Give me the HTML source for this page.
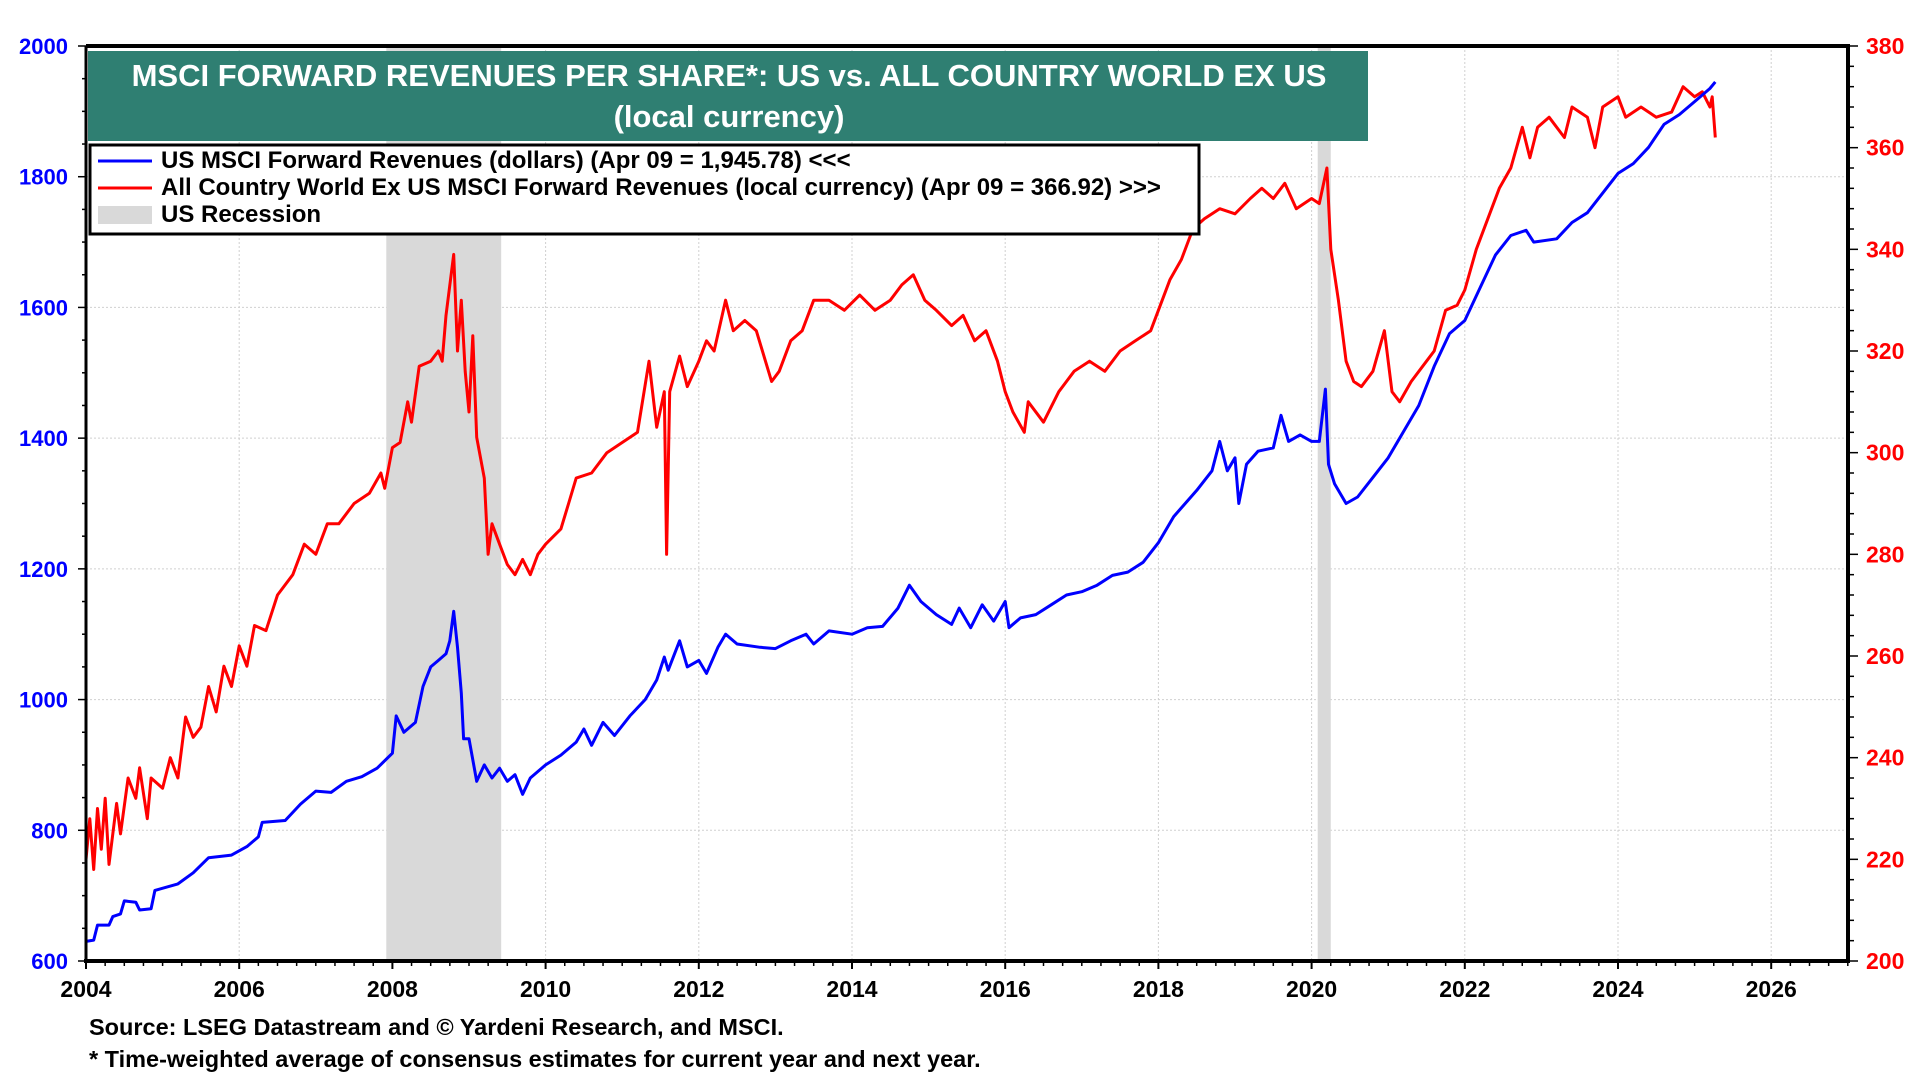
<!DOCTYPE html>
<html><head><meta charset="utf-8"><style>
html,body{margin:0;padding:0;background:#fff;width:1920px;height:1080px;overflow:hidden}
svg{display:block}
text{font-family:"Liberation Sans",Arial,sans-serif;font-weight:bold}
</style></head><body>
<svg id="chart" width="1920" height="1080" xmlns="http://www.w3.org/2000/svg">
<g id="grid"></g>
<g id="shade"></g>
<g id="series"></g>
<g id="axes"></g>
<rect x="88" y="51" width="1280" height="90" fill="#2f7f72"/>
<text x="729" y="86" fill="#fff" font-size="31" text-anchor="middle">MSCI FORWARD REVENUES PER SHARE*: US vs. ALL COUNTRY WORLD EX US</text>
<text x="729" y="127" fill="#fff" font-size="31" text-anchor="middle">(local currency)</text>
<g>
<rect x="90" y="145" width="1109" height="89" fill="#fff" stroke="#000" stroke-width="3"/>
<line x1="98" y1="161" x2="152" y2="161" stroke="#0000ff" stroke-width="3"/>
<text x="161" y="168" font-size="24">US MSCI Forward Revenues (dollars) (Apr 09 = 1,945.78) &lt;&lt;&lt;</text>
<line x1="98" y1="188" x2="152" y2="188" stroke="#ff0000" stroke-width="3"/>
<text x="161" y="195" font-size="24">All Country World Ex US MSCI Forward Revenues (local currency) (Apr 09 = 366.92) &gt;&gt;&gt;</text>
<rect x="98" y="206" width="54" height="18" fill="#d9d9d9"/>
<text x="161" y="222" font-size="24">US Recession</text>
</g>
<text x="89" y="1035" font-size="23.5">Source: LSEG Datastream and © Yardeni Research, and MSCI.</text>
<text x="89" y="1067" font-size="23.5">* Time-weighted average of consensus estimates for current year and next year.</text>
</svg>
<script>
const blueYears=[2004.0,2004.1,2004.15,2004.3,2004.35,2004.45,2004.5,2004.65,2004.7,2004.85,2004.9,2005.2,2005.4,2005.6,2005.9,2006.1,2006.25,2006.3,2006.6,2006.8,2007.0,2007.2,2007.4,2007.6,2007.8,2008.0,2008.05,2008.15,2008.3,2008.4,2008.5,2008.6,2008.7,2008.75,2008.8,2008.85,2008.9,2008.93,2009.0,2009.1,2009.2,2009.3,2009.4,2009.5,2009.6,2009.7,2009.8,2010.0,2010.2,2010.4,2010.5,2010.6,2010.75,2010.9,2011.1,2011.3,2011.45,2011.55,2011.6,2011.75,2011.85,2012.0,2012.1,2012.25,2012.35,2012.5,2012.8,2013.0,2013.2,2013.4,2013.5,2013.7,2014.0,2014.2,2014.4,2014.6,2014.75,2014.9,2015.1,2015.3,2015.4,2015.55,2015.7,2015.85,2016.0,2016.05,2016.2,2016.4,2016.6,2016.8,2017.0,2017.2,2017.4,2017.6,2017.8,2018.0,2018.2,2018.35,2018.5,2018.7,2018.8,2018.9,2019.0,2019.05,2019.15,2019.3,2019.5,2019.6,2019.7,2019.85,2020.0,2020.1,2020.18,2020.22,2020.3,2020.45,2020.6,2020.8,2021.0,2021.2,2021.4,2021.6,2021.8,2022.0,2022.2,2022.4,2022.6,2022.8,2022.9,2023.2,2023.4,2023.6,2023.8,2024.0,2024.2,2024.4,2024.6,2024.8,2025.0,2025.2,2025.27];
const blueVals=[630,632,655,655,668,672,692,690,678,680,708,718,735,758,762,775,790,812,815,840,860,858,875,882,895,918,975,950,965,1020,1050,1060,1070,1090,1135,1080,1010,940,940,875,900,880,895,875,885,855,880,900,915,935,955,930,965,945,975,1000,1030,1065,1045,1090,1050,1060,1040,1080,1100,1085,1080,1078,1090,1100,1085,1105,1100,1110,1112,1140,1175,1150,1130,1115,1140,1110,1145,1120,1150,1110,1125,1130,1145,1160,1165,1175,1190,1195,1210,1240,1280,1300,1320,1350,1395,1350,1370,1300,1360,1380,1385,1435,1395,1405,1395,1395,1475,1360,1330,1300,1310,1340,1370,1410,1450,1510,1560,1580,1630,1680,1710,1718,1700,1705,1730,1745,1775,1805,1820,1845,1880,1895,1915,1935,1945];
const redYears=[2004.0,2004.05,2004.1,2004.15,2004.2,2004.25,2004.3,2004.4,2004.45,2004.55,2004.65,2004.7,2004.8,2004.85,2005.0,2005.1,2005.2,2005.3,2005.4,2005.5,2005.6,2005.7,2005.8,2005.9,2006.0,2006.1,2006.2,2006.35,2006.5,2006.7,2006.85,2007.0,2007.15,2007.3,2007.5,2007.7,2007.85,2007.9,2008.0,2008.1,2008.2,2008.25,2008.35,2008.5,2008.6,2008.65,2008.7,2008.8,2008.85,2008.9,2008.95,2009.0,2009.05,2009.1,2009.2,2009.25,2009.3,2009.4,2009.5,2009.6,2009.7,2009.8,2009.9,2010.0,2010.2,2010.3,2010.4,2010.6,2010.8,2011.0,2011.2,2011.35,2011.45,2011.55,2011.58,2011.62,2011.75,2011.85,2012.0,2012.1,2012.2,2012.35,2012.45,2012.6,2012.75,2012.95,2013.05,2013.2,2013.35,2013.5,2013.7,2013.9,2014.1,2014.3,2014.5,2014.65,2014.8,2014.95,2015.1,2015.3,2015.45,2015.6,2015.75,2015.9,2016.0,2016.1,2016.25,2016.3,2016.5,2016.7,2016.9,2017.1,2017.3,2017.5,2017.7,2017.9,2018.0,2018.15,2018.3,2018.45,2018.6,2018.8,2019.0,2019.2,2019.35,2019.5,2019.65,2019.8,2020.0,2020.1,2020.2,2020.25,2020.35,2020.45,2020.55,2020.65,2020.8,2020.95,2021.05,2021.15,2021.3,2021.5,2021.6,2021.75,2021.9,2022.0,2022.15,2022.3,2022.45,2022.6,2022.75,2022.85,2022.95,2023.1,2023.3,2023.4,2023.6,2023.7,2023.8,2024.0,2024.1,2024.3,2024.5,2024.7,2024.85,2025.0,2025.1,2025.2,2025.23,2025.27];
const redVals=[220,228,218,230,222,232,219,231,225,236,232,238,228,236,234,240,236,248,244,246,254,249,258,254,262,258,266,265,272,276,282,280,286,286,290,292,296,293,301,302,310,306,317,318,320,318,327,339,320,330,316,308,323,303,295,280,286,282,278,276,279,276,280,282,285,290,295,296,300,302,304,318,305,312,280,312,319,313,318,322,320,330,324,326,324,314,316,322,324,330,330,328,331,328,330,333,335,330,328,325,327,322,324,318,312,308,304,310,306,312,316,318,316,320,322,324,328,334,338,344,346,348,347,350,352,350,353,348,350,349,356,340,330,318,314,313,316,324,312,310,314,318,320,328,329,332,340,346,352,356,364,358,364,366,362,368,366,360,368,370,366,368,366,367,372,370,371,368,370,362];
const xTickLabels=[2004,2006,2008,2010,2012,2014,2016,2018,2020,2022,2024,2026];
const leftTickLabels=[600,800,1000,1200,1400,1600,1800,2000];
const rightTickLabels=[200,220,240,260,280,300,320,340,360,380];
const recessionStarts=[2007.92,2020.08];
const recessionEnds=[2009.42,2020.25];

const NS='http://www.w3.org/2000/svg';
const L=86,R=1848,T=46,B=961;
const X=yr=>L+(yr-2004)*76.6;
const YL=v=>B-(v-600)*(B-T)/1400;
const YR=v=>B-(v-200)*(B-T)/180;
function mk(tag,attrs,parent){const e=document.createElementNS(NS,tag);for(const k in attrs)e.setAttribute(k,attrs[k]);parent.appendChild(e);return e;}
const grid=document.getElementById('grid'),shade=document.getElementById('shade'),series=document.getElementById('series'),axes=document.getElementById('axes');

leftTickLabels.forEach(v=>{const l=mk('line',{x1:L,x2:R,y1:YL(v),y2:YL(v),stroke:'#d0d0d0','stroke-width':1,'stroke-dasharray':'2,2'},grid);

});
xTickLabels.forEach(v=>{const l=mk('line',{x1:X(v),x2:X(v),y1:T,y2:B,stroke:'#d0d0d0','stroke-width':1,'stroke-dasharray':'2,2'},grid);

});

recessionStarts.forEach((s,i)=>{const r=mk('rect',{x:X(s),y:T,width:X(recessionEnds[i])-X(s),height:B-T,fill:'#d9d9d9'},shade);

});

function path(ys,vs,f){return ys.map((y,i)=>(i?'L':'M')+X(y).toFixed(1)+','+f(vs[i]).toFixed(1)).join('');}
const rp=mk('path',{d:path(redYears,redVals,YR),fill:'none',stroke:'#ff0000','stroke-width':3,'stroke-linejoin':'round'},series);


const bp=mk('path',{d:path(blueYears,blueVals,YL),fill:'none',stroke:'#0000ff','stroke-width':3,'stroke-linejoin':'round'},series);



mk('line',{x1:L,x2:L,y1:T,y2:B,stroke:'#000','stroke-width':3},axes);
mk('line',{x1:L,x2:R+2,y1:T,y2:T,stroke:'#000','stroke-width':4},axes);
mk('line',{x1:L-2,x2:R+2,y1:B,y2:B,stroke:'#000','stroke-width':4},axes);
mk('line',{x1:R,x2:R,y1:T-2,y2:B+2,stroke:'#000','stroke-width':4},axes);
for(let q=0;q<=23*4;q++){const yr=2004+q/4;if(X(yr)>R)break;const maj=q%8===0;
mk('line',{x1:X(yr),x2:X(yr),y1:B,y2:B+(maj?8:5),stroke:'#000','stroke-width':maj?2:1.5},axes);}
xTickLabels.forEach(v=>{const t=mk('text',{x:X(v),y:997,'font-size':23,'text-anchor':'middle',fill:'#000'},axes);t.textContent=v;

});
for(let v=600;v<=2000;v+=50){const maj=v%200===0;mk('line',{x1:L-(maj?8:4),x2:L,y1:YL(v),y2:YL(v),stroke:'#000','stroke-width':1.5},axes);}
leftTickLabels.forEach(v=>{const t=mk('text',{x:68,y:YL(v)+8,'font-size':22,'text-anchor':'end',fill:'#0000ff'},axes);t.textContent=v;

});
for(let v=200;v<=380;v+=4){const maj=v%20===0;mk('line',{x1:R,x2:R+(maj?10:6),y1:YR(v),y2:YR(v),stroke:'#000','stroke-width':1.5},axes);}
rightTickLabels.forEach(v=>{const t=mk('text',{x:1866,y:YR(v)+8,'font-size':23,'text-anchor':'start',fill:'#ff0000'},axes);t.textContent=v;

});
</script>
</body></html>
